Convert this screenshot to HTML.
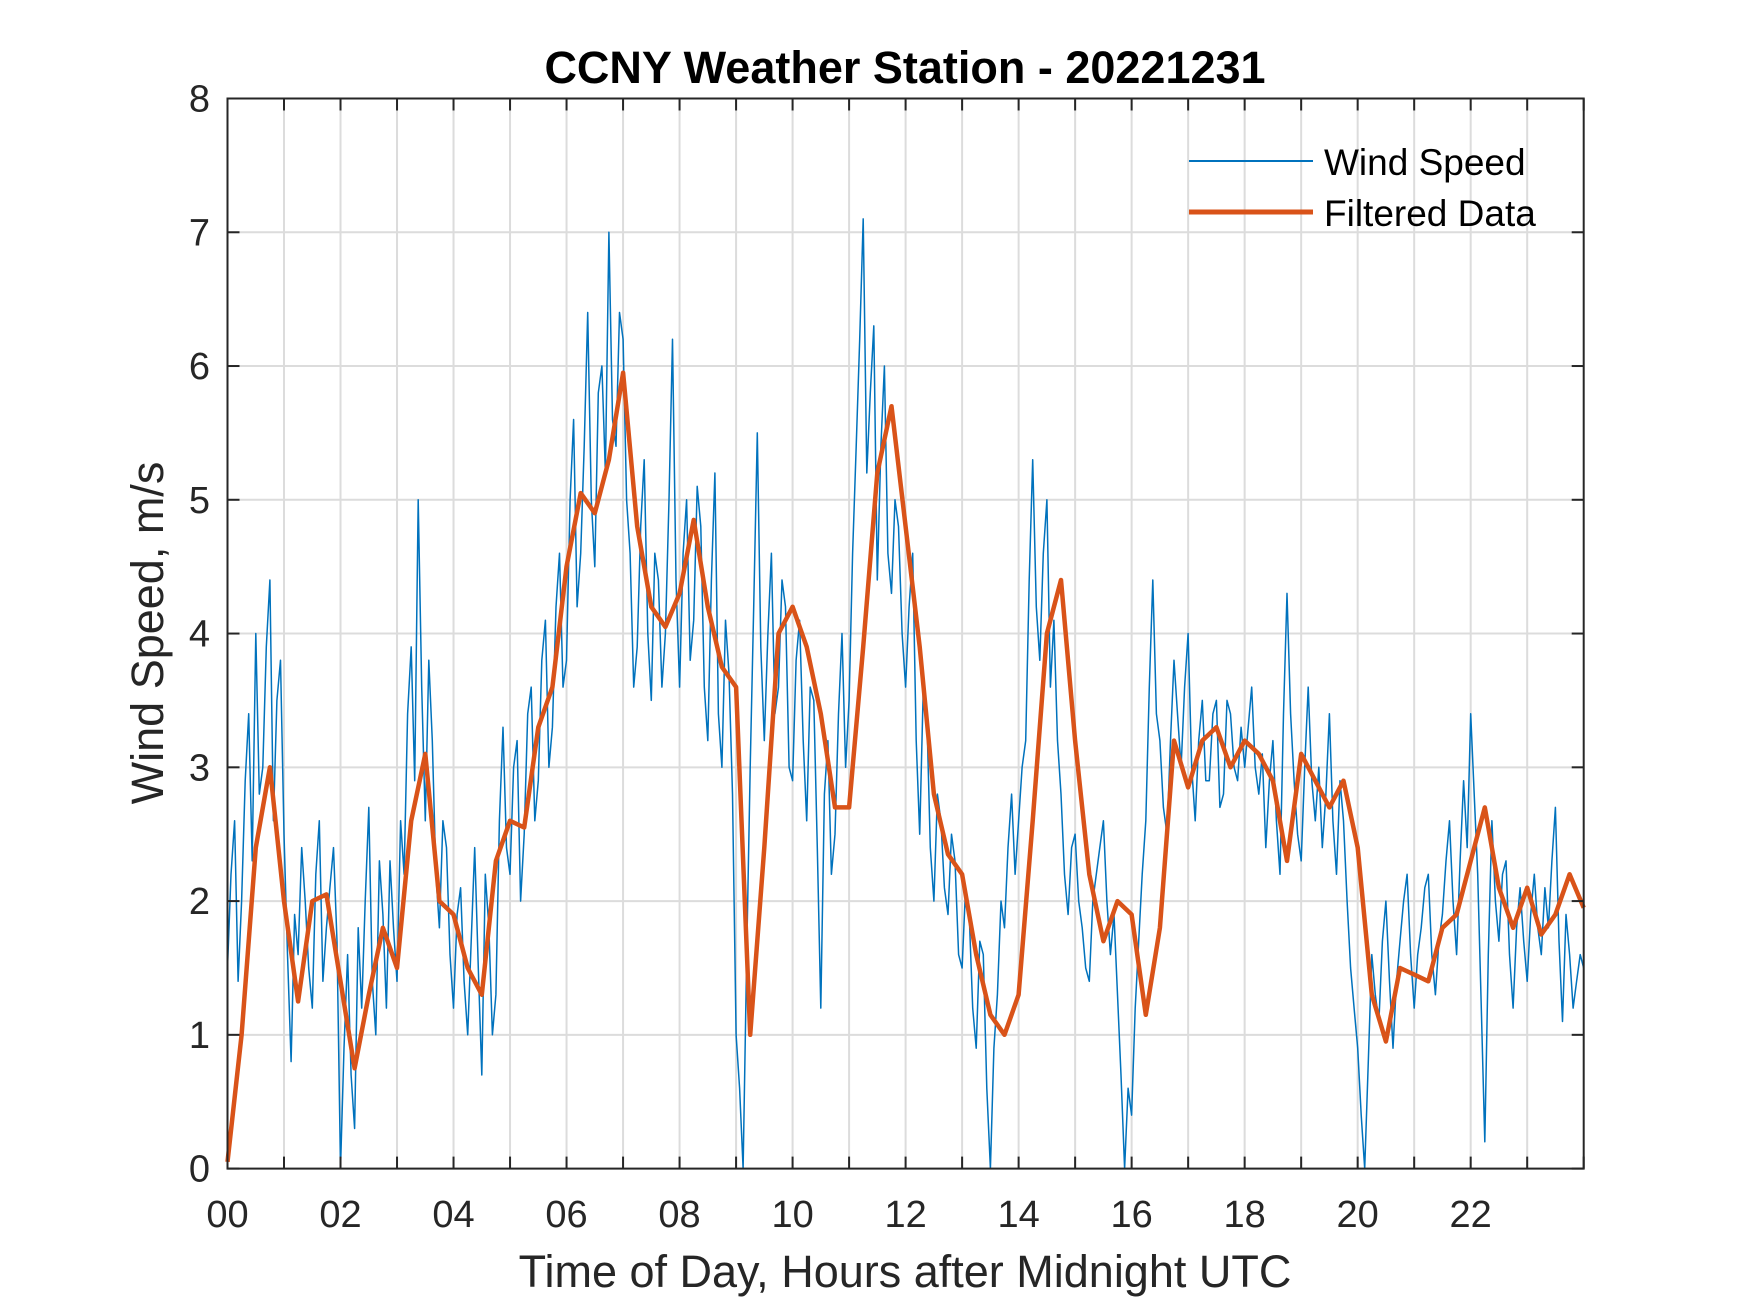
<!DOCTYPE html>
<html><head><meta charset="utf-8"><style>
html,body{margin:0;padding:0;background:#fff;}
svg{display:block;font-family:"Liberation Sans",Arial,sans-serif;}
</style></head><body>
<svg id="chart" width="1750" height="1313" viewBox="0 0 1750 1313" xmlns="http://www.w3.org/2000/svg">
<rect width="1750" height="1313" fill="#fff"/>
<g id="grid"></g>
<g id="series"></g>
<g id="axes"></g>
<text x="905" y="83" text-anchor="middle" font-size="45" font-weight="bold" fill="#000">CCNY Weather Station - 20221231</text>
<text x="905" y="1287" text-anchor="middle" font-size="45" fill="#262626">Time of Day, Hours after Midnight UTC</text>
<text transform="translate(163,633) rotate(-90)" text-anchor="middle" font-size="45" fill="#262626">Wind Speed, m/s</text>
<g>
<line x1="1189" y1="161" x2="1313" y2="161" stroke="#0072BD" stroke-width="2"/>
<text x="1324" y="175" font-size="37" fill="#000">Wind Speed</text>
<line x1="1189" y1="212" x2="1313" y2="212" stroke="#D95319" stroke-width="5"/>
<text x="1324" y="226" font-size="37" fill="#000">Filtered Data</text>
</g>
</svg>
<script>
const xTickLabels = ["00","02","04","06","08","10","12","14","16","18","20","22"];
const yTickLabels = ["0","1","2","3","4","5","6","7","8"];
const rawStep = 0.0625;
const rawValues = [
1.5,2.2,2.6,1.4,2.0,2.9,3.4,2.3,4.0,2.8,3.0,3.9,4.4,2.6,3.5,3.8,
2.5,1.6,0.8,1.9,1.6,2.4,2.0,1.5,1.2,2.2,2.6,1.4,1.8,2.1,2.4,1.7,
0.0,0.9,1.6,0.7,0.3,1.8,1.2,2.0,2.7,1.4,1.0,2.3,1.9,1.2,2.3,1.8,
1.4,2.6,2.2,3.4,3.9,2.9,5.0,3.6,2.6,3.8,3.2,2.2,1.8,2.6,2.4,1.6,
1.2,1.9,2.1,1.4,1.0,1.7,2.4,1.5,0.7,2.2,1.8,1.0,1.3,2.6,3.3,2.4,
2.2,3.0,3.2,2.0,2.5,3.4,3.6,2.6,2.9,3.8,4.1,3.0,3.3,4.2,4.6,3.6,
3.8,5.0,5.6,4.2,4.6,5.4,6.4,5.0,4.5,5.8,6.0,5.2,7.0,5.6,5.4,6.4,
6.2,5.0,4.6,3.6,3.9,4.8,5.3,4.0,3.5,4.6,4.4,3.6,4.0,5.0,6.2,4.4,
3.6,4.6,5.0,3.8,4.1,5.1,4.8,3.6,3.2,4.4,5.2,3.4,3.0,4.1,3.7,2.8,
1.0,0.6,0.0,1.6,3.0,4.2,5.5,3.9,3.2,4.0,4.6,3.4,3.6,4.4,4.2,3.0,
2.9,3.8,4.1,3.2,2.6,3.6,3.5,2.4,1.2,2.8,3.2,2.2,2.5,3.4,4.0,3.0,
3.5,4.6,5.4,6.2,7.1,5.2,5.8,6.3,4.4,5.4,6.0,4.6,4.3,5.0,4.8,4.0,
3.6,4.2,4.6,3.2,2.5,3.6,3.4,2.4,2.0,2.8,2.6,2.1,1.9,2.5,2.3,1.6,
1.5,2.1,1.9,1.2,0.9,1.7,1.6,0.6,0.0,0.9,1.3,2.0,1.8,2.4,2.8,2.2,
2.6,3.0,3.2,4.4,5.3,4.2,3.8,4.6,5.0,3.6,4.1,3.2,2.8,2.2,1.9,2.4,
2.5,2.0,1.8,1.5,1.4,2.0,2.2,2.4,2.6,2.0,1.6,1.9,1.3,0.7,0.0,0.6,
0.4,1.2,1.7,2.2,2.6,3.6,4.4,3.4,3.2,2.7,2.5,3.2,3.8,3.4,3.0,3.6,
4.0,3.0,2.6,3.2,3.5,2.9,2.9,3.4,3.5,2.7,2.8,3.5,3.4,3.0,2.9,3.3,
3.0,3.3,3.6,3.0,2.8,3.1,2.4,2.9,3.2,2.6,2.2,3.4,4.3,3.4,2.9,2.5,
2.3,3.0,3.6,2.9,2.6,3.0,2.4,2.8,3.4,2.6,2.2,2.9,2.6,2.0,1.5,1.2,
0.9,0.4,0.0,0.8,1.6,1.3,1.1,1.7,2.0,1.4,0.9,1.4,1.7,2.0,2.2,1.6,
1.2,1.6,1.8,2.1,2.2,1.6,1.3,1.7,1.9,2.3,2.6,2.0,1.6,2.3,2.9,2.4,
3.4,2.8,2.2,1.2,0.2,1.6,2.6,2.0,1.7,2.2,2.3,1.6,1.2,1.8,2.1,1.7,
1.4,1.9,2.2,1.8,1.6,2.1,1.8,2.3,2.7,1.7,1.1,1.9,1.6,1.2,1.4,1.6,
1.5];
const filtStep = 0.25;
const filteredValues = [
0.05,1.0,2.4,3.0,2.0,1.25,2.0,2.05,
1.4,0.75,1.3,1.8,1.5,2.6,3.1,2.0,
1.9,1.5,1.3,2.3,2.6,2.55,3.3,3.6,
4.5,5.05,4.9,5.3,5.95,4.8,4.2,4.05,
4.3,4.85,4.2,3.75,3.6,1.0,2.4,4.0,
4.2,3.9,3.4,2.7,2.7,3.9,5.2,5.7,
4.8,3.9,2.8,2.35,2.2,1.6,1.15,1.0,
1.3,2.6,4.0,4.4,3.2,2.2,1.7,2.0,
1.9,1.15,1.8,3.2,2.85,3.2,3.3,3.0,
3.2,3.1,2.9,2.3,3.1,2.9,2.7,2.9,
2.4,1.3,0.95,1.5,1.45,1.4,1.8,1.9,
2.3,2.7,2.1,1.8,2.1,1.75,1.9,2.2,
1.95];

const L=227.5,R=1583.7,T=98.5,B=1168.6;
const xS=h=>L+(R-L)*h/24;
const yS=v=>B-(B-T)*v/8;
const NS="http://www.w3.org/2000/svg";
function mk(tag,attrs,parent){const e=document.createElementNS(NS,tag);for(const k in attrs)e.setAttribute(k,attrs[k]);parent.appendChild(e);return e;}
const grid=document.getElementById('grid'),series=document.getElementById('series'),axes=document.getElementById('axes');
for(let h=1;h<24;h++){
  const g=mk('line',{x1:xS(h),x2:xS(h),y1:T,y2:B,stroke:'#dcdcdc','stroke-width':2},grid);
  
  
}
for(let v=1;v<8;v++){
  const g=mk('line',{x1:L,x2:R,y1:yS(v),y2:yS(v),stroke:'#dcdcdc','stroke-width':2},grid);
  
  
}
let d=rawValues.map((v,i)=>(i?'L':'M')+xS(Math.min(24,i*rawStep)).toFixed(1)+' '+yS(v).toFixed(1)).join('');
const raw=mk('path',{d:d,fill:'none',stroke:'#0072BD','stroke-width':1.5,'stroke-linejoin':'round'},series);


d=filteredValues.map((v,i)=>(i?'L':'M')+xS(Math.min(24,i*filtStep)).toFixed(1)+' '+yS(v).toFixed(1)).join('');
const fl=mk('path',{d:d,fill:'none',stroke:'#D95319','stroke-width':4.5,'stroke-linejoin':'round'},series);


const box=mk('rect',{x:L,y:T,width:R-L,height:B-T,fill:'none',stroke:'#262626','stroke-width':2},axes);


for(let h=0;h<=24;h++){
  const x=xS(h);
  const t1=mk('line',{x1:x,x2:x,y1:B,y2:B-12,stroke:'#262626','stroke-width':2},axes);
  
  
  const t2=mk('line',{x1:x,x2:x,y1:T,y2:T+12,stroke:'#262626','stroke-width':2},axes);
  
  
}
xTickLabels.forEach((s,i)=>{
  const t=mk('text',{x:xS(i*2),y:1227,'text-anchor':'middle','font-size':38,fill:'#262626'},axes);
  t.textContent=s;
  
  
});
yTickLabels.forEach((s,i)=>{
  const y=yS(i);
  const t1=mk('line',{x1:L,x2:L+12,y1:y,y2:y,stroke:'#262626','stroke-width':2},axes);
  
  
  const t2=mk('line',{x1:R,x2:R-12,y1:y,y2:y,stroke:'#262626','stroke-width':2},axes);
  
  
  const t=mk('text',{x:210,y:y+13,'text-anchor':'end','font-size':38,fill:'#262626'},axes);
  t.textContent=s;
  
  
});
</script>
</body></html>
